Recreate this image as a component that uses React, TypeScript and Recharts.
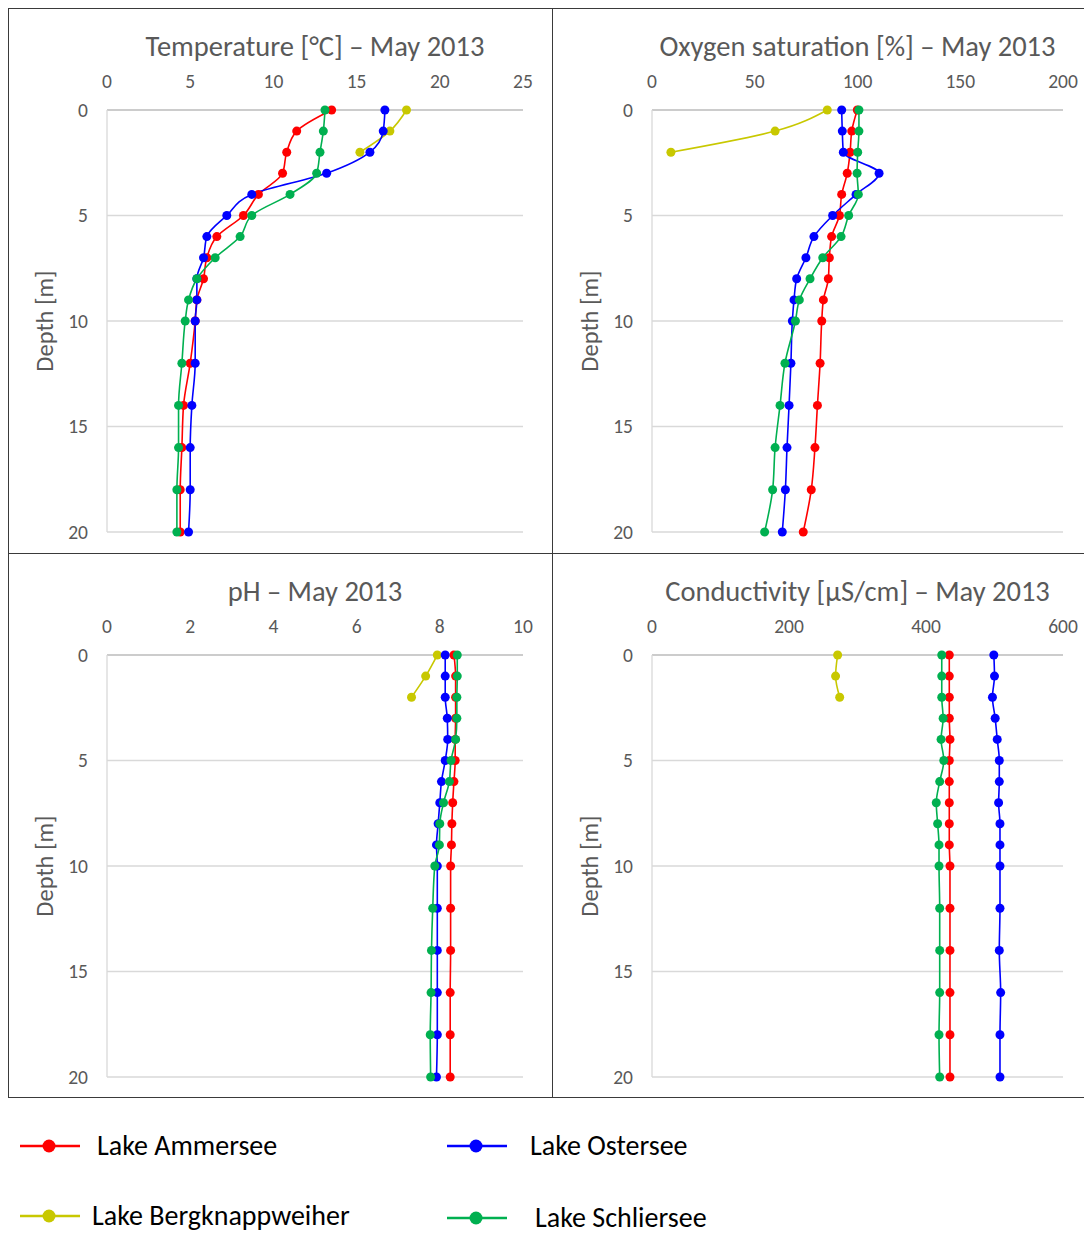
import React from "react";
import {
  LineChart,
  Line,
  XAxis,
  YAxis,
  CartesianGrid,
} from "recharts";

// depth levels [m]
const depths = [0, 1, 2, 3, 4, 5, 6, 7, 8, 9, 10, 12, 14, 16, 18, 20];

// Temperature [°C]
const tempAmmersee = [13.5, 11.4, 10.8, 10.55, 9.1, 8.2, 6.6, 6.0, 5.8, 5.4, 5.3, 5.0, 4.6, 4.5, 4.4, 4.4];
const tempOstersee = [16.7, 16.6, 15.8, 13.2, 8.7, 7.2, 6.0, 5.8, 5.4, 5.4, 5.3, 5.3, 5.1, 5.0, 5.0, 4.9];
const tempBergknapp = [18.0, 17.0, 15.2];
const tempSchliersee = [13.1, 13.0, 12.8, 12.6, 11.0, 8.7, 8.0, 6.5, 5.4, 4.9, 4.7, 4.5, 4.3, 4.3, 4.2, 4.2];

// Oxygen saturation [%]
const oxyAmmersee = [99.9, 97.2, 96.4, 95.0, 92.3, 91.2, 87.4, 86.3, 85.8, 83.4, 82.6, 81.8, 80.5, 79.3, 77.5, 73.6];
const oxyOstersee = [92.3, 92.6, 93.1, 110.5, 99.3, 87.9, 78.8, 74.9, 70.4, 69.1, 68.3, 67.6, 66.7, 65.7, 64.9, 63.4];
const oxyBergknapp = [85.3, 59.9, 9.2];
const oxySchliersee = [100.7, 100.7, 100.1, 99.8, 100.4, 95.7, 92.0, 83.1, 76.9, 71.7, 69.8, 64.7, 62.3, 59.9, 58.7, 54.8];

// pH
const phAmmersee = [8.34, 8.38, 8.38, 8.38, 8.37, 8.37, 8.34, 8.31, 8.29, 8.28, 8.26, 8.26, 8.26, 8.25, 8.25, 8.25];
const phOstersee = [8.13, 8.13, 8.13, 8.18, 8.19, 8.13, 8.04, 8.0, 7.96, 7.92, 7.94, 7.94, 7.94, 7.94, 7.94, 7.92];
const phBergknapp = [7.94, 7.66, 7.32];
const phSchliersee = [8.42, 8.42, 8.41, 8.41, 8.38, 8.27, 8.23, 8.09, 8.0, 7.99, 7.88, 7.83, 7.8, 7.79, 7.77, 7.78];

// Conductivity [µS/cm]
const condAmmersee = [434, 434, 434, 434, 435, 434, 434, 434, 434, 434, 435, 435, 435, 435, 435, 435];
const condOstersee = [499, 500, 497, 501, 504, 507, 507, 506, 508, 508, 508, 508, 507, 509, 508, 508];
const condBergknapp = [271, 268, 274];
const condSchliersee = [423, 423, 423, 425, 422, 426, 420, 415, 417, 419, 419, 420, 420, 420, 419, 420];

const tempTicks = [0, 5, 10, 15, 20, 25];
const oxyTicks = [0, 50, 100, 150, 200];
const phTicks = [0, 2, 4, 6, 8, 10];
const condTicks = [0, 200, 400, 600];
const depthTicks = [0, 5, 10, 15, 20];

const SERIES = [
  { key: "amm", name: "Lake Ammersee", color: "#ff0000" },
  { key: "berg", name: "Lake Bergknappweiher", color: "#c8c800" },
  { key: "ost", name: "Lake Ostersee", color: "#0000ff" },
  { key: "sch", name: "Lake Schliersee", color: "#00b050" },
];

const FONT = "Carlito, Lato, 'Open Sans', sans-serif";
const GRAY = "#595959";

const buildRows = (amm: number[], ost: number[], berg: number[], sch: number[]) =>
  depths.map((d, i) => ({
    depth: d,
    amm: amm[i],
    ost: ost[i],
    berg: i < berg.length ? berg[i] : null,
    sch: sch[i],
  }));

const W = 544;
const H = 545;

interface PanelProps {
  title: string;
  data: any[];
  ticks: number[];
  left: number;
  top: number;
  plotLeft: number;
  plotRight: number;
}

function Panel({ title, data, ticks, left, top, plotLeft, plotRight }: PanelProps) {
  const marginLeft = plotLeft - 60;
  const marginRight = W - plotRight;
  return (
    <div style={{ position: "absolute", left, top, width: W, height: H }}>
      <div
        style={{
          position: "absolute",
          left: plotLeft - 40,
          width: plotRight - plotLeft + 80,
          top: 23,
          textAlign: "center",
          fontSize: 28.5,
          lineHeight: "32px",
          color: GRAY,
          fontFamily: FONT,
          whiteSpace: "nowrap",
        }}
      >
        {title}
      </div>
      <LineChart
        width={W}
        height={H}
        data={data}
        layout="vertical"
        margin={{ top: 72, right: marginRight, left: marginLeft, bottom: 21 }}
        style={{ fontFamily: FONT }}
      >
        <CartesianGrid vertical={false} stroke="#d9d9d9" strokeWidth={1.3} />
        <XAxis
          type="number"
          orientation="top"
          domain={[ticks[0], ticks[ticks.length - 1]]}
          ticks={ticks}
          height={30}
          axisLine={{ stroke: "#c4c4c4", strokeWidth: 1.3 }}
          tickLine={false}
          tickMargin={16}
          tick={{ fill: GRAY, fontSize: 19.5 }}
        />
        <YAxis
          type="number"
          dataKey="depth"
          domain={[0, 20]}
          ticks={depthTicks}
          width={60}
          axisLine={{ stroke: "#d9d9d9", strokeWidth: 1.3 }}
          tickLine={false}
          tickMargin={13}
          tick={{ fill: GRAY, fontSize: 19.5 }}
          label={{
            value: "Depth [m]",
            angle: -90,
            position: "center",
            dx: -33,
            fill: GRAY,
            fontSize: 24.5,
          }}
        />
        {SERIES.map((s) => (
          <Line
            key={s.key}
            dataKey={s.key}
            type="monotone"
            stroke={s.color}
            strokeWidth={1.6}
            dot={{ r: 4.5, fill: s.color, stroke: s.color, strokeWidth: 0 }}
            activeDot={false}
            isAnimationActive={false}
          />
        ))}
      </LineChart>
    </div>
  );
}

function LegendItem({ x, y, textX, color, label }: { x: number; y: number; textX: number; color: string; label: string }) {
  return (
    <>
      <svg style={{ position: "absolute", left: x, top: y - 8 }} width={62} height={16}>
        <line x1={0} y1={8} x2={60} y2={8} stroke={color} strokeWidth={2.5} />
        <circle cx={29} cy={8} r={6.5} fill={color} />
      </svg>
      <div
        style={{
          position: "absolute",
          left: textX,
          top: y - 12,
          lineHeight: "24px",
          fontSize: 28,
          color: "#000",
          fontFamily: FONT,
          whiteSpace: "nowrap",
        }}
      >
        {label}
      </div>
    </>
  );
}

export default function App() {
  const border = "1.3px solid #3a3a3a";
  return (
    <div style={{ position: "relative", width: 1088, height: 1225 }}>
      <Panel
        title="Temperature [°C] – May 2013"
        data={buildRows(tempAmmersee, tempOstersee, tempBergknapp, tempSchliersee)}
        ticks={tempTicks}
        left={0}
        top={0}
        plotLeft={99}
        plotRight={515}
      />
      <Panel
        title="Oxygen saturation [%] – May 2013"
        data={buildRows(oxyAmmersee, oxyOstersee, oxyBergknapp, oxySchliersee)}
        ticks={oxyTicks}
        left={544}
        top={0}
        plotLeft={100}
        plotRight={511}
      />
      <Panel
        title="pH – May 2013"
        data={buildRows(phAmmersee, phOstersee, phBergknapp, phSchliersee)}
        ticks={phTicks}
        left={0}
        top={545}
        plotLeft={99}
        plotRight={515}
      />
      <Panel
        title="Conductivity [µS/cm] – May 2013"
        data={buildRows(condAmmersee, condOstersee, condBergknapp, condSchliersee)}
        ticks={condTicks}
        left={544}
        top={545}
        plotLeft={100}
        plotRight={511}
      />
      {/* panel frames */}
      <div style={{ position: "absolute", left: 0, top: 0, width: 1088, height: 1090, borderLeft: border, borderTop: border, borderBottom: border, boxSizing: "border-box", pointerEvents: "none" }} />
      <div style={{ position: "absolute", left: 544, top: 0, width: 0, height: 1090, borderLeft: border, pointerEvents: "none" }} />
      <div style={{ position: "absolute", left: 0, top: 545, width: 1088, height: 0, borderTop: border, pointerEvents: "none" }} />

      <LegendItem x={12} y={1138} textX={89} color="#ff0000" label="Lake Ammersee" />
      <LegendItem x={439} y={1138} textX={522} color="#0000ff" label="Lake Ostersee" />
      <LegendItem x={12} y={1208} textX={84} color="#c8c800" label="Lake Bergknappweiher" />
      <LegendItem x={439} y={1210} textX={527} color="#00b050" label="Lake Schliersee" />
    </div>
  );
}
